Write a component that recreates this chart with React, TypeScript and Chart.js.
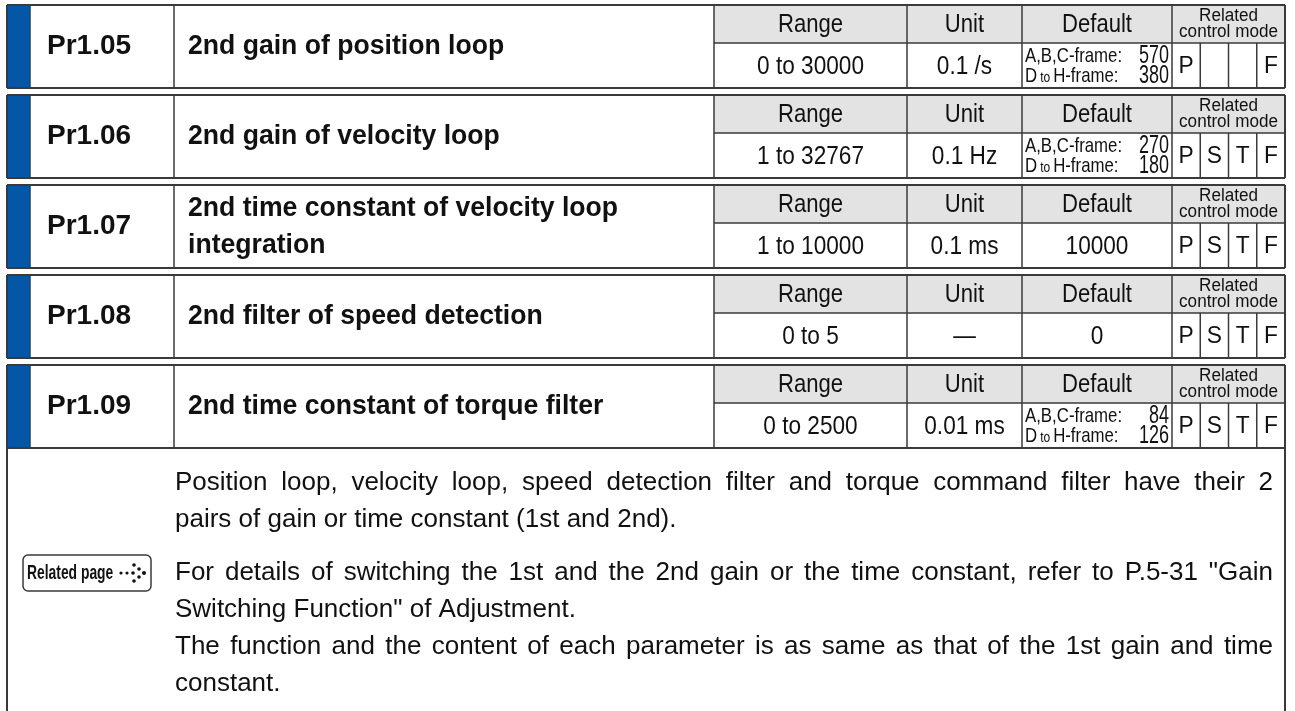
import React, { useEffect, useRef } from "react";
import { Chart, registerables } from "chart.js";

Chart.register(...registerables);

// ---------------- data ----------------
const paramIds = ["Pr1.05", "Pr1.06", "Pr1.07", "Pr1.08", "Pr1.09"];
const paramNames = [
  ["2nd gain of position loop"],
  ["2nd gain of velocity loop"],
  ["2nd time constant of velocity loop", "integration"],
  ["2nd filter of speed detection"],
  ["2nd time constant of torque filter"],
];
const headerLabels = ["Range", "Unit", "Default"];
const relatedLabel = ["Related", "control mode"];
const rangeValues = ["0 to 30000", "1 to 32767", "1 to 10000", "0 to 5", "0 to 2500"];
const unitValues = ["0.1 /s", "0.1 Hz", "0.1 ms", "—", "0.01 ms"];
const defaultABC = ["570", "270", "", "", "84"];
const defaultDH = ["380", "180", "", "", "126"];
const defaultSingle = ["", "", "10000", "0", ""];
const controlModes = [
  ["P", "", "", "F"],
  ["P", "S", "T", "F"],
  ["P", "S", "T", "F"],
  ["P", "S", "T", "F"],
  ["P", "S", "T", "F"],
];
const frameLabels = ["A,B,C-frame:", "D", "to", "H-frame:"];
const noteParagraphs = [
  [
    "Position loop, velocity loop, speed detection filter and torque command filter have their 2",
    "pairs of gain or time constant (1st and 2nd).",
  ],
  [
    "For details of switching the 1st and the 2nd gain or the time constant, refer to P.5-31 \"Gain",
    "Switching Function\" of Adjustment.",
  ],
  [
    "The function and the content of each parameter is as same as that of the 1st gain and time",
    "constant.",
  ],
];
const relatedPageLabel = "Related page";

// ---------------- layout (style only) ----------------
const W = 1295;
const H = 711;
const G = {
  left: 7,
  right: 1285,
  blueR: 30,
  idR: 174,
  nameR: 714,
  rangeR: 907,
  unitR: 1022,
  defR: 1172,
  top: 5,
  rowH: 83,
  gap: 7,
  headH: 38,
  textX: 175,
  textR: 1273,
  lineY: [483, 520, 573, 610, 647, 684],
};
const FONT = '"Liberation Sans", Arial, Helvetica, sans-serif';
const BLUE = "#0457a6";
const GRAY = "#e3e3e3";
const LINE = "#3a3a3a";

const tablePlugin = {
  id: "paramTable",
  afterDraw(chart: any) {
    const ctx: CanvasRenderingContext2D = chart.ctx;
    const sx = chart.scales.x;
    const sy = chart.scales.y;
    const X = (v: number) => sx.getPixelForValue(v);
    const Y = (v: number) => sy.getPixelForValue(v);

    const text = (
      s: string,
      x: number,
      y: number,
      size: number,
      opts: { bold?: boolean; align?: CanvasTextAlign; scale?: number } = {}
    ) => {
      ctx.save();
      ctx.translate(X(x), Y(y));
      ctx.scale(opts.scale ?? 1, 1);
      ctx.font = `${opts.bold ? "bold " : ""}${size}px ${FONT}`;
      ctx.textAlign = opts.align ?? "left";
      ctx.textBaseline = "middle";
      ctx.fillStyle = "#111";
      ctx.fillText(s, 0, 0);
      ctx.restore();
    };
    const width = (s: string, size: number, bold = false, scale = 1) => {
      ctx.save();
      ctx.font = `${bold ? "bold " : ""}${size}px ${FONT}`;
      const w = ctx.measureText(s).width * scale;
      ctx.restore();
      return w;
    };
    const line = (x1: number, y1: number, x2: number, y2: number, lw = 1.5, c = LINE) => {
      ctx.save();
      ctx.strokeStyle = c;
      ctx.lineWidth = lw;
      ctx.beginPath();
      ctx.moveTo(X(x1), Y(y1));
      ctx.lineTo(X(x2), Y(y2));
      ctx.stroke();
      ctx.restore();
    };
    const rect = (x1: number, y1: number, x2: number, y2: number, c: string) => {
      ctx.save();
      ctx.fillStyle = c;
      ctx.fillRect(X(x1), Y(y1), X(x2) - X(x1), Y(y2) - Y(y1));
      ctx.restore();
    };

    ctx.save();
    ctx.fillStyle = "#fff";
    ctx.fillRect(0, 0, chart.width, chart.height);
    ctx.restore();

    const subW = (G.right - G.defR) / 4;
    let lastBottom = 0;

    paramIds.forEach((id, i) => {
      const top = G.top + i * (G.rowH + G.gap);
      const bot = top + G.rowH;
      const mid = top + G.headH;
      lastBottom = bot;
      // fills
      rect(G.nameR, top, G.right, mid, GRAY);
      rect(G.left, top, G.blueR, bot, BLUE);
      // inner lines
      line(G.blueR, top, G.blueR, bot, 1.5);
      line(G.idR, top, G.idR, bot, 1.5);
      line(G.nameR, top, G.nameR, bot, 1.5);
      line(G.nameR, mid, G.right, mid, 1.5);
      line(G.rangeR, top, G.rangeR, bot, 1.5);
      line(G.unitR, top, G.unitR, bot, 1.5);
      line(G.defR, top, G.defR, bot, 1.5);
      for (let k = 1; k < 4; k++) line(G.defR + k * subW, mid, G.defR + k * subW, bot, 1.5);
      // outer frame
      line(G.left, top, G.right, top, 2.2);
      line(G.left, bot, G.right, bot, 2.2);
      line(G.left, top, G.left, bot, 2);
      line(G.right, top, G.right, bot, 2);

      // id + name
      text(id, G.blueR + 17, (top + bot) / 2, 28, { bold: true });
      const nm = paramNames[i];
      if (nm.length === 1) {
        text(nm[0], G.idR + 14, (top + bot) / 2, 28, { bold: true, scale: 0.95 });
      } else {
        text(nm[0], G.idR + 14, top + 23, 28, { bold: true, scale: 0.95 });
        text(nm[1], G.idR + 14, top + 60, 28, { bold: true, scale: 0.95 });
      }

      // headers
      const hy = (top + mid) / 2 + 1;
      const vy = (mid + bot) / 2 + 1;
      text(headerLabels[0], (G.nameR + G.rangeR) / 2, hy, 26, { align: "center", scale: 0.85 });
      text(headerLabels[1], (G.rangeR + G.unitR) / 2, hy, 26, { align: "center", scale: 0.85 });
      text(headerLabels[2], (G.unitR + G.defR) / 2, hy, 26, { align: "center", scale: 0.85 });
      text(relatedLabel[0], (G.defR + G.right) / 2, top + 11, 18, { align: "center", scale: 0.95 });
      text(relatedLabel[1], (G.defR + G.right) / 2, top + 27, 18, { align: "center", scale: 0.95 });

      // values
      text(rangeValues[i], (G.nameR + G.rangeR) / 2, vy, 26, { align: "center", scale: 0.87 });
      text(unitValues[i], (G.rangeR + G.unitR) / 2, vy, 26, { align: "center", scale: 0.87 });
      if (defaultSingle[i]) {
        text(defaultSingle[i], (G.unitR + G.defR) / 2, vy, 26, { align: "center", scale: 0.87 });
      } else {
        const y1 = mid + 13;
        const y2 = mid + 33;
        const lx = G.unitR + 3;
        text(frameLabels[0], lx, y1, 21, { scale: 0.8 });
        text(defaultABC[i], G.defR - 3, y1, 25, { align: "right", scale: 0.72 });
        text(frameLabels[1], lx, y2, 21, { scale: 0.8 });
        const dW = width(frameLabels[1], 21, false, 0.8);
        text(frameLabels[2], lx + dW + 3, y2 + 2, 15, { scale: 0.8 });
        const tW = width(frameLabels[2], 15, false, 0.8);
        text(frameLabels[3], lx + dW + tW + 6, y2, 21, { scale: 0.8 });
        text(defaultDH[i], G.defR - 3, y2, 25, { align: "right", scale: 0.72 });
      }
      controlModes[i].forEach((m, k) => {
        if (m) text(m, G.defR + (k + 0.5) * subW, vy, 24, { align: "center", scale: 0.95 });
      });
    });

    // description area
    line(G.left, lastBottom, G.left, H, 2);
    line(G.right, lastBottom, G.right, H, 2);

    let li = 0;
    noteParagraphs.forEach((para) => {
      para.forEach((ln, j) => {
        const y = G.lineY[li++];
        const size = 26;
        if (j < para.length - 1) {
          const words = ln.split(" ");
          const tot = words.reduce((a, w) => a + width(w, size), 0);
          const g = (G.textR - G.textX - tot) / (words.length - 1);
          let x = G.textX;
          words.forEach((w) => {
            text(w, x, y, size);
            x += width(w, size) + g;
          });
        } else {
          text(ln, G.textX, y, size);
        }
      });
    });

    // related page badge
    const by = G.lineY[2];
    const bx1 = 23;
    const bx2 = 151;
    const bh = 36;
    ctx.save();
    ctx.strokeStyle = LINE;
    ctx.lineWidth = 1.5;
    ctx.beginPath();
    (ctx as any).roundRect(X(bx1), Y(by - bh / 2), X(bx2) - X(bx1), Y(by + bh / 2) - Y(by - bh / 2), 5);
    ctx.stroke();
    ctx.restore();
    text(relatedPageLabel, bx1 + 4, by, 21, { bold: true, scale: 0.66 });
    const dots: [number, number, number][] = [
      [121, 0, 1.6],
      [127, 0, 1.6],
      [134, -8, 1.8],
      [133, 0, 1.8],
      [134, 8, 1.8],
      [139, -4, 1.8],
      [139, 4, 1.8],
      [144, 0, 2],
    ];
    ctx.save();
    ctx.fillStyle = "#111";
    dots.forEach(([dx, dy, r]) => {
      ctx.beginPath();
      ctx.arc(X(dx), Y(by + dy), r, 0, Math.PI * 2);
      ctx.fill();
    });
    ctx.restore();
  },
};

export default function App() {
  const ref = useRef<HTMLCanvasElement | null>(null);
  useEffect(() => {
    document.body.style.margin = "0";
    const canvas = ref.current;
    if (!canvas) return;
    const chart = new Chart(canvas, {
      type: "scatter",
      data: { datasets: [{ data: [], pointRadius: 0 }] },
      options: {
        animation: false,
        responsive: false,
        devicePixelRatio: 1,
        layout: { padding: 0 },
        plugins: { legend: { display: false }, tooltip: { enabled: false } },
        scales: {
          x: { type: "linear", min: 0, max: W, display: false },
          y: { type: "linear", min: 0, max: H, reverse: true, display: false },
        },
      },
      plugins: [tablePlugin],
    });
    return () => chart.destroy();
  }, []);
  return (
    <div style={{ width: W, height: H }}>
      <canvas ref={ref} width={W} height={H} style={{ display: "block" }} />
    </div>
  );
}
